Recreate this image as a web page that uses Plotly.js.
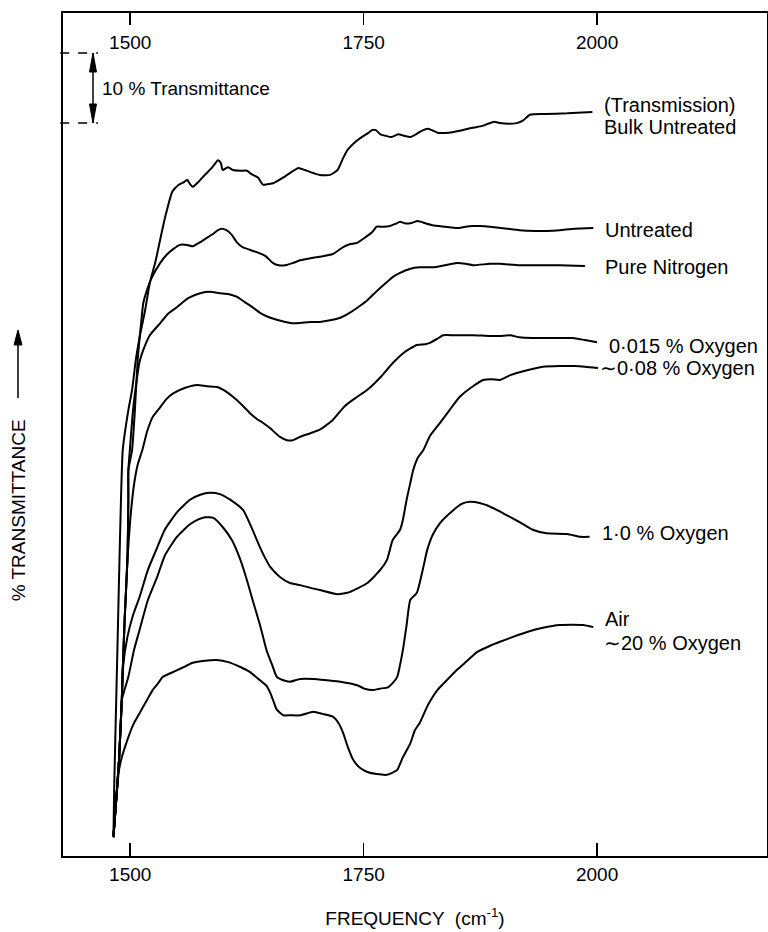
<!DOCTYPE html>
<html><head><meta charset="utf-8">
<script src="https://cdn.plot.ly/plotly-3.0.1.min.js"></script>
<style>html,body{margin:0;padding:0;background:#fff}#chart{width:768px;height:932px}</style>
</head><body><div id="chart"></div>
<script>
// Frequency in cm^-1, transmittance in % (curves offset vertically as in the original figure)
const tickFreqs = [1500, 1750, 2000];

const bulkFreq = [1482,1483,1485,1487,1489,1492,1498,1502,1506,1510,1516,1521,1527,1532,1538,1545,1548,1552,1558,1561,1564,1567,1573,1580,1588,1594,1597,1599,1603,1605,1610,1618,1625,1630,1637,1642,1648,1653,1666,1680,1687,1693,1703,1714,1722,1728,1733,1741,1748,1755,1759,1763,1768,1773,1780,1787,1793,1800,1806,1812,1819,1823,1830,1837,1845,1853,1862,1870,1877,1883,1890,1896,1905,1914,1921,1928,1944,1968,1995];
const bulkT = [2.7,10.9,22.3,33.7,45.1,58.0,63.7,66.6,70.9,74.1,78.0,81.9,84.9,88.0,91.6,94.9,95.4,95.9,96.3,96.6,96.0,95.6,96.3,97.3,98.4,99.4,99.0,98.0,98.3,98.4,98.0,97.9,97.9,97.4,96.9,95.9,96.0,96.1,97.1,98.3,98.0,97.7,97.3,97.3,98.0,99.7,100.9,102.0,102.7,103.3,103.7,103.7,103.1,102.9,102.7,103.1,102.9,102.7,103.1,103.6,103.9,103.7,103.3,103.3,103.4,103.6,103.9,104.1,104.3,104.6,104.9,104.7,104.6,104.7,105.1,105.9,106.0,106.1,106.3];

const untreatedFreq = [1482,1485,1488,1490,1491,1492,1494,1497,1498,1498,1500,1502,1505,1508,1512,1514,1518,1523,1532,1539,1546,1553,1561,1567,1575,1582,1589,1594,1598,1603,1609,1614,1620,1628,1639,1645,1653,1659,1666,1674,1682,1693,1703,1717,1728,1735,1743,1751,1759,1764,1771,1778,1784,1789,1794,1800,1808,1816,1824,1837,1850,1859,1867,1875,1885,1904,1917,1934,1946,1960,1976,1996];
const untreatedT = [2.7,8.0,13.7,19.4,22.3,26.6,33.7,42.3,50.9,55.1,56.6,58.0,63.7,70.9,76.6,79.0,80.9,82.6,84.7,85.9,86.7,87.3,87.3,87.1,87.7,88.3,88.9,89.4,89.6,89.4,88.7,87.7,87.0,86.6,86.1,85.7,84.7,84.4,84.4,84.7,85.1,85.4,85.6,86.0,87.0,87.4,87.6,88.3,89.1,89.9,89.9,90.0,90.3,90.6,90.4,90.4,90.7,90.4,90.1,89.9,89.7,89.9,90.0,90.0,89.9,89.6,89.4,89.3,89.3,89.4,89.6,89.7];

const nitrogenFreq = [1482,1485,1488,1490,1491,1492,1494,1497,1498,1498,1500,1503,1507,1510,1514,1521,1532,1540,1550,1562,1575,1585,1596,1605,1614,1623,1631,1639,1648,1657,1666,1674,1693,1703,1717,1725,1735,1744,1754,1764,1775,1781,1789,1800,1810,1824,1837,1850,1859,1867,1885,1896,1917,1939,1960,1987];
const nitrogenT = [2.7,8.0,13.7,19.4,22.3,26.6,33.7,42.3,50.9,55.1,58.7,63.7,68.0,70.6,72.3,74.4,76.1,77.4,78.4,79.7,80.4,80.6,80.4,80.3,79.9,79.1,78.4,77.6,77.0,76.6,76.3,76.1,76.3,76.3,76.6,76.9,77.6,78.4,79.4,80.7,82.0,82.7,83.3,83.9,84.1,84.1,84.4,84.7,84.6,84.4,84.6,84.6,84.4,84.4,84.4,84.3];

const ox015Freq = [1482,1485,1488,1490,1491,1492,1494,1497,1500,1504,1508,1513,1518,1524,1532,1539,1546,1559,1572,1582,1593,1602,1610,1620,1628,1636,1642,1650,1660,1668,1674,1682,1693,1703,1717,1730,1741,1754,1768,1781,1794,1807,1816,1821,1829,1835,1848,1867,1885,1896,1907,1917,1931,1950,1974,1987,2000];
const ox015T = [2.7,8.0,13.7,19.4,22.3,26.6,33.7,42.3,48.0,53.0,55.9,58.0,60.6,62.7,64.1,65.3,66.1,66.9,67.3,67.1,67.0,66.4,65.6,64.4,63.3,62.4,61.9,61.1,59.9,59.4,59.4,59.9,60.4,60.9,62.3,64.3,65.4,66.6,68.4,70.4,72.0,73.0,73.1,73.3,73.9,74.4,74.4,74.4,74.3,74.3,74.4,74.1,74.0,74.0,74.0,73.7,73.4];

const ox08Freq = [1482,1485,1488,1490,1491,1492,1497,1503,1510,1519,1529,1537,1550,1564,1575,1585,1596,1607,1621,1630,1639,1644,1650,1660,1671,1682,1693,1703,1722,1735,1754,1768,1775,1781,1789,1792,1796,1800,1803,1808,1814,1821,1832,1842,1853,1866,1878,1887,1896,1907,1925,1942,1960,1976,1987,2001];
const ox08T = [2.7,8.0,13.7,19.4,22.3,26.6,31.3,34.4,37.0,40.9,44.1,46.6,49.1,50.9,51.6,51.9,51.7,50.9,49.4,46.9,44.1,42.7,41.3,39.9,39.0,38.7,38.3,38.0,37.4,37.7,39.0,40.9,42.3,45.1,46.6,48.0,50.9,53.3,55.1,56.9,58.0,60.0,61.9,63.7,65.6,67.0,68.0,68.1,68.0,68.7,69.4,69.9,70.0,70.0,69.9,69.7];

const ox10Freq = [1482,1485,1488,1490,1491,1498,1504,1510,1519,1529,1537,1550,1564,1573,1580,1589,1599,1609,1618,1625,1631,1639,1646,1652,1657,1664,1671,1682,1696,1711,1725,1743,1751,1760,1767,1776,1781,1786,1789,1792,1796,1800,1807,1814,1818,1824,1832,1846,1855,1864,1875,1882,1893,1903,1917,1931,1946,1968,1982,1992];
const ox10T = [2.7,8.0,13.7,19.4,22.3,25.6,29.4,32.3,36.6,39.9,42.9,45.6,47.4,48.1,48.4,48.3,47.0,45.1,42.3,39.4,36.6,33.0,29.4,27.3,25.6,25.1,24.9,25.3,25.3,25.1,24.9,24.4,23.9,23.7,23.9,24.1,24.7,25.6,27.3,29.4,33.0,36.6,37.6,41.3,43.7,45.9,47.6,49.4,50.3,50.6,50.4,50.1,49.4,48.7,47.7,46.6,46.1,46.0,45.6,45.6];

const airFreq = [1482,1485,1488,1491,1497,1503,1510,1518,1524,1530,1535,1548,1559,1567,1580,1593,1605,1618,1628,1639,1646,1650,1654,1657,1664,1671,1682,1696,1706,1717,1723,1728,1733,1739,1746,1754,1764,1775,1781,1786,1792,1800,1805,1810,1819,1829,1839,1850,1861,1871,1885,1896,1910,1925,1942,1960,1985,1996];
const airT = [2.7,8.0,12.3,14.1,16.6,18.7,20.4,22.3,23.7,24.7,25.6,26.4,27.1,27.6,27.9,28.0,27.7,27.0,26.3,25.1,24.3,23.3,21.9,20.9,20.1,20.1,20.1,20.6,20.3,19.9,19.0,17.6,15.6,13.7,12.6,12.0,11.7,11.6,11.9,12.3,14.1,16.1,18.0,19.0,21.6,23.7,25.1,26.6,27.9,29.1,30.0,30.6,31.3,32.0,32.6,33.0,33.0,32.7];

const seriesNames = ['Bulk Untreated','Untreated','Pure Nitrogen','0·015 % Oxygen','∼0·08 % Oxygen','1·0 % Oxygen','Air ∼20 % Oxygen'];
const seriesX = [bulkFreq, untreatedFreq, nitrogenFreq, ox015Freq, ox08Freq, ox10Freq, airFreq];
const seriesY = [bulkT, untreatedT, nitrogenT, ox015T, ox08T, ox10T, airT];

const FONT = 'Liberation Sans, Arial, Helvetica, sans-serif';
const traces = seriesX.map((xs, i) => ({
  x: xs, y: seriesY[i], name: seriesNames[i], type: 'scatter', mode: 'lines',
  line: {color: '#000', width: 2, shape: 'spline', smoothing: 0.5}, xaxis: 'x', yaxis: 'y', hoverinfo: 'skip'
}));
// invisible trace to activate the top axis
traces.push({x: [tickFreqs[0]], y: [0], xaxis: 'x2', yaxis: 'y', mode: 'markers', marker: {opacity: 0}, showlegend: false, hoverinfo: 'skip'});

const xr = [1428, 2182];
const yr = [0, 120.43];
const lab = (text, x, y) => ({text, x, y, xref: 'x', yref: 'y', xanchor: 'left', yanchor: 'middle', showarrow: false, font: {family: FONT, size: 20, color: '#000'}});
const blk = {color: '#000', width: 1.5};

const layout = {
  width: 768, height: 932,
  margin: {l: 63, r: 1, t: 13, b: 76},
  paper_bgcolor: '#fff', plot_bgcolor: '#fff',
  showlegend: false,
  font: {family: FONT, color: '#000'},
  xaxis: {
    range: xr, tickvals: tickFreqs, ticktext: tickFreqs.map(String),
    ticks: 'inside', ticklen: 13, tickwidth: 1.5, tickcolor: '#000',
    showline: true, linecolor: '#000', linewidth: 2, mirror: false,
    showgrid: false, zeroline: false,
    tickfont: {family: FONT, size: 19, color: '#000'},
    title: {text: 'FREQUENCY  (cm<sup>-1</sup>)', font: {family: FONT, size: 19, color: '#000'}, standoff: 28}
  },
  xaxis2: {
    range: xr, overlaying: 'x', side: 'top', tickvals: tickFreqs, ticktext: tickFreqs.map(String),
    ticks: 'inside', ticklen: 12, tickwidth: 1.5, tickcolor: '#000', ticklabelposition: 'inside',
    ticklabelstandoff: 12,
    showline: true, linecolor: '#000', linewidth: 2,
    showgrid: false, zeroline: false,
    tickfont: {family: FONT, size: 19, color: '#000'}
  },
  yaxis: {
    range: yr, showticklabels: false, ticks: '', showgrid: false, zeroline: false,
    showline: true, linecolor: '#000', linewidth: 2, mirror: true
  },
  shapes: [
    // 10 % transmittance scale bracket
    {type: 'line', xref: 'paper', yref: 'y', x0: -0.004, x1: 0.0497, y0: 114.7, y1: 114.7, line: {color: '#000', width: 1.5, dash: 'dash'}},
    {type: 'line', xref: 'paper', yref: 'y', x0: -0.004, x1: 0.0497, y0: 104.7, y1: 104.7, line: {color: '#000', width: 1.5, dash: 'dash'}},
    {type: 'line', xref: 'paper', yref: 'paper', x0: 0.04261, x1: 0.04261, y0: 0.95255, y1: 0.86951, line: blk},
    {type: 'path', xref: 'paper', yref: 'paper', path: 'M 0.04261 0.95255 L 0.04758 0.93001 L 0.03764 0.93001 Z', fillcolor: '#000', line: {color: '#000', width: 1}},
    {type: 'path', xref: 'paper', yref: 'paper', path: 'M 0.04261 0.86951 L 0.04758 0.89205 L 0.03764 0.89205 Z', fillcolor: '#000', line: {color: '#000', width: 1}},
    // y-title arrow
    {type: 'line', xref: 'paper', yref: 'paper', x0: -0.06392, x1: -0.06392, y0: 0.5433, y1: 0.615, line: blk},
    {type: 'path', xref: 'paper', yref: 'paper', path: 'M -0.06392 0.62396 L -0.05824 0.60617 L -0.0696 0.60617 Z', fillcolor: '#000', line: {color: '#000', width: 1}}
  ],
  annotations: [
    {x: 0.0526, y: 109.7, xref: 'paper', yref: 'y', xanchor: 'left', yanchor: 'middle', showarrow: false, text: '10 % Transmittance', font: {family: FONT, size: 19, color: '#000'}},
    {x: -0.064, y: 0.41, xref: 'paper', yref: 'paper', xanchor: 'center', yanchor: 'middle', showarrow: false, textangle: -90, text: '% TRANSMITTANCE', font: {family: FONT, size: 19, color: '#000'}},
    lab('(Transmission)', 2005, 107.3),
    lab('Bulk Untreated', 2005, 104.1),
    lab(seriesNames[1], 2006, 89.4),
    lab(seriesNames[2], 2006, 84.1),
    lab(seriesNames[3], 2011, 72.9),
    lab(seriesNames[4], 2001, 69.7),
    lab(seriesNames[5], 2003, 46.1),
    lab('Air', 2006, 33.8),
    lab('∼20 % Oxygen', 2005, 30.4)
  ]
};

Plotly.newPlot('chart', traces, layout, {staticPlot: true, displayModeBar: false});
</script></body></html>
